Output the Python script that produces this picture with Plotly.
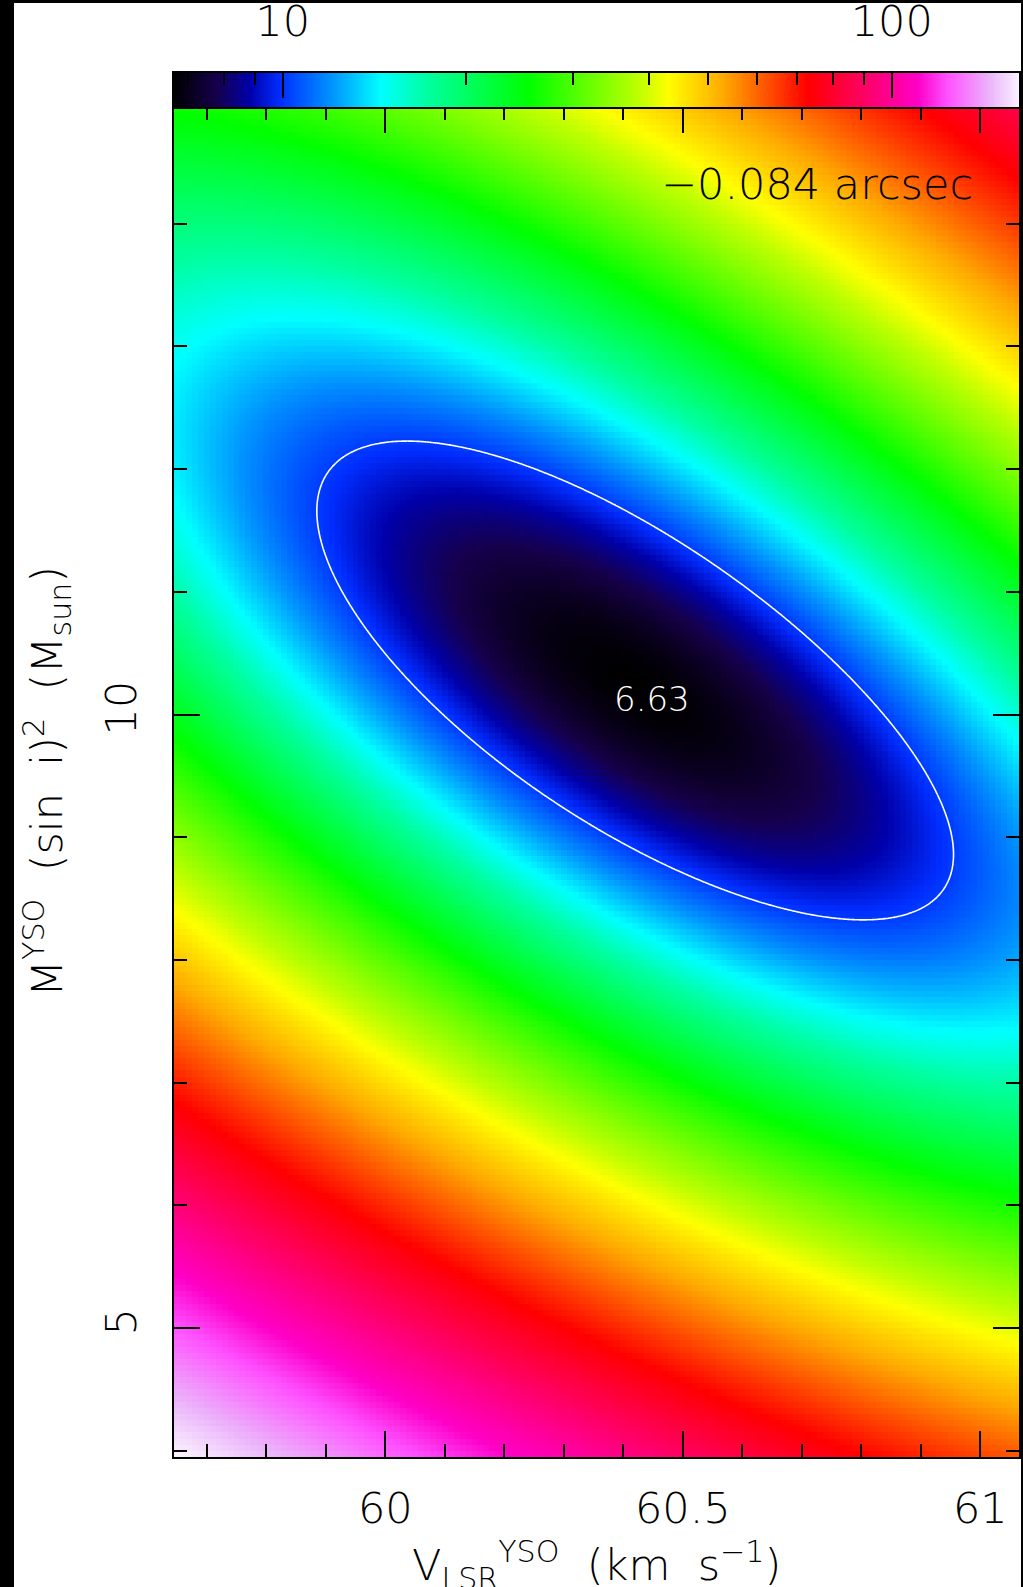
import numpy as np
import plotly.graph_objects as go

# Best-fit solution of the rotation-curve fit and the shape of its chi-square valley
CHI2_MIN = 6.63            # minimum chi-square
V_BEST = 60.42             # km/s
M_BEST = 10.24             # Msun
MASS_EXPONENT = 0.8        # chi-square is close to quadratic in M**0.8
CURV_VV = 25.36            # d2chi2 terms in (V, M**0.8)
CURV_VS = 19.83
CURV_SS = 7.547
DELTA_CHI2 = 3.53          # 1-sigma level for three free parameters
OFFSET_LABEL = "\u22120.084 arcsec"

# Sampling of the parameter plane
V_STEP = 0.01
M_STEP = 0.05
v_grid = np.round(np.arange(59.65, 61.0601, V_STEP), 3)
m_grid = np.round(np.arange(3.975, 14.93, M_STEP), 3)

# Axis ticks
X_MAJOR = [60, 60.5, 61]
X_MAJOR_TEXT = ["60", "60.5", "61"]
Y_MAJOR = [5, 10]
Y_MAJOR_TEXT = ["5", "10"]
CBAR_MAJOR = [10, 100]
CBAR_MAJOR_TEXT = ["10", "100"]
CBAR_MINOR = [7, 8, 9, 20, 30, 40, 50, 60, 70, 80, 90]

# Colour table (black -> blue -> cyan -> green -> yellow -> red -> magenta -> white)
COLORSCALE = [
    [0.000, "rgb(0,0,0)"],
    [0.050, "rgb(22,0,75)"],
    [0.090, "rgb(0,0,170)"],
    [0.125, "rgb(0,45,255)"],
    [0.185, "rgb(0,145,255)"],
    [0.245, "rgb(0,255,255)"],
    [0.300, "rgb(0,255,160)"],
    [0.420, "rgb(0,255,0)"],
    [0.550, "rgb(190,255,0)"],
    [0.585, "rgb(255,255,0)"],
    [0.650, "rgb(255,170,0)"],
    [0.750, "rgb(255,0,0)"],
    [0.810, "rgb(255,0,90)"],
    [0.880, "rgb(255,0,200)"],
    [0.915, "rgb(255,80,255)"],
    [0.965, "rgb(235,180,250)"],
    [1.000, "rgb(250,242,255)"],
]


def chi2(v, m):
    dv = v - V_BEST
    ds = m ** MASS_EXPONENT - M_BEST ** MASS_EXPONENT
    return CHI2_MIN + CURV_VV * dv ** 2 + CURV_VS * dv * ds + CURV_SS * ds ** 2


VV, MM = np.meshgrid(v_grid, m_grid)
chi_map = chi2(VV, MM)
zlo = np.log10(chi_map.min())
zhi = np.log10(chi_map.max())

# finer sampling for a smooth contour line
v_fine = np.linspace(v_grid[0], v_grid[-1], 500)
m_fine = np.linspace(m_grid[0], m_grid[-1], 700)
VF, MF = np.meshgrid(v_fine, m_fine)
chi_fine = chi2(VF, MF)
level = CHI2_MIN + DELTA_CHI2

# page geometry (px)
W, H = 1023, 1587
L, R, T, B = 174, 4, 73, 130
PW, PH = W - L - R, H - T - B
CBAR_PX = 34
y_split = 1 - CBAR_PX / PH

FONT = dict(family="'DejaVu Sans', sans-serif", color="black", size=43, weight=200)

fig = go.Figure()

fig.add_trace(go.Heatmap(
    x=v_grid, y=m_grid, z=np.log10(chi_map),
    zmin=zlo, zmax=zhi, colorscale=COLORSCALE, showscale=False,
    zsmooth=False, xaxis="x", yaxis="y", hoverinfo="skip",
))

fig.add_trace(go.Contour(
    x=v_fine, y=m_fine, z=chi_fine,
    contours=dict(start=level, end=level, size=1, coloring="none"),
    line=dict(color="white", width=1.6), showscale=False,
    xaxis="x", yaxis="y", hoverinfo="skip",
))

# colour wedge drawn as a strip on a logarithmic axis
wedge_vals = np.logspace(zlo, zhi, 600)
fig.add_trace(go.Heatmap(
    x=wedge_vals, y=[0], z=[np.log10(wedge_vals)],
    zmin=zlo, zmax=zhi, colorscale=COLORSCALE, showscale=False,
    zsmooth=False, xaxis="x2", yaxis="y2", hoverinfo="skip",
))

axis_common = dict(
    showline=True, linecolor="black", linewidth=2, showgrid=False, zeroline=False,
    ticks="inside", tickcolor="black", tickwidth=1.5, tickfont=FONT, automargin=False,
)

fig.update_layout(
    width=W, height=H, autosize=False,
    margin=dict(l=L, r=R, t=T, b=B, pad=0),
    paper_bgcolor="white", plot_bgcolor="white",
    showlegend=False,
    xaxis=dict(
        **axis_common, domain=[0, 1], anchor="y",
        range=[v_grid[0] - V_STEP / 2, v_grid[-1] + V_STEP / 2],
        mirror="allticks", ticklen=26,
        tickmode="array", tickvals=X_MAJOR, ticktext=X_MAJOR_TEXT,
        ticklabelstandoff=12,
        minor=dict(tickmode="linear", tick0=59.6, dtick=0.1, ticks="inside",
                   ticklen=13, tickwidth=1.5, tickcolor="black"),
    ),
    yaxis=dict(
        **axis_common, domain=[0, y_split], anchor="x",
        range=[m_grid[0] - M_STEP / 2, m_grid[-1] + M_STEP / 2],
        mirror="allticks", ticklen=26, tickangle=-90,
        tickmode="array", tickvals=Y_MAJOR, ticktext=Y_MAJOR_TEXT,
        ticklabelstandoff=19,
        minor=dict(tickmode="linear", tick0=0, dtick=1, ticks="inside",
                   ticklen=13, tickwidth=1.5, tickcolor="black"),
    ),
    xaxis2=dict(
        **axis_common, domain=[0, 1], anchor="y2", type="log", side="top",
        range=[zlo, zhi], mirror=True, ticklen=25,
        tickmode="array", tickvals=CBAR_MAJOR, ticktext=CBAR_MAJOR_TEXT,
        ticklabelstandoff=18,
        minor=dict(tickmode="array", tickvals=CBAR_MINOR, ticks="inside",
                   ticklen=12, tickwidth=1.5, tickcolor="black"),
    ),
    yaxis2=dict(
        domain=[y_split, 1], anchor="x2", range=[-0.5, 0.5], automargin=False,
        showline=True, linecolor="black", linewidth=2, mirror=True,
        showticklabels=False, ticks="", showgrid=False, zeroline=False,
    ),
)


def px_x(p):
    return (p - L) / PW


def px_y(p):
    return (H - B - p) / PH


annotations = [
    dict(text="6.63", x=60.448, y=10.13, xref="x", yref="y", showarrow=False,
         font=dict(FONT, size=34, color="white")),
    dict(text=OFFSET_LABEL, x=px_x(975), y=px_y(184), xref="paper", yref="paper",
         xanchor="right", yanchor="middle", showarrow=False, font=FONT),
    dict(text="V<sub>LSR</sub><sup>YSO</sup>  (km  s<sup>\u22121</sup>)",
         x=px_x(596), y=px_y(1565), xref="paper", yref="paper",
         xanchor="center", yanchor="middle", showarrow=False, font=FONT),
    dict(text="M<sup>YSO</sup>  (sin  i)<sup>2</sup>  (M<sub>sun</sub>)",
         x=px_x(47), y=px_y(782), xref="paper", yref="paper", textangle=-90,
         xanchor="center", yanchor="middle", showarrow=False, font=FONT),
]
fig.update_layout(annotations=annotations)

# dark frame along the page edges
frame = [(0, 0, 14, H), (0, 0, W, 3), (W - 2, 0, W, H)]
fig.update_layout(shapes=[
    dict(type="rect", xref="paper", yref="paper",
         x0=px_x(a), x1=px_x(c), y0=px_y(d), y1=px_y(b),
         fillcolor="black", line=dict(width=0), layer="above")
    for a, b, c, d in frame
])

fig.write_html("out.html")
